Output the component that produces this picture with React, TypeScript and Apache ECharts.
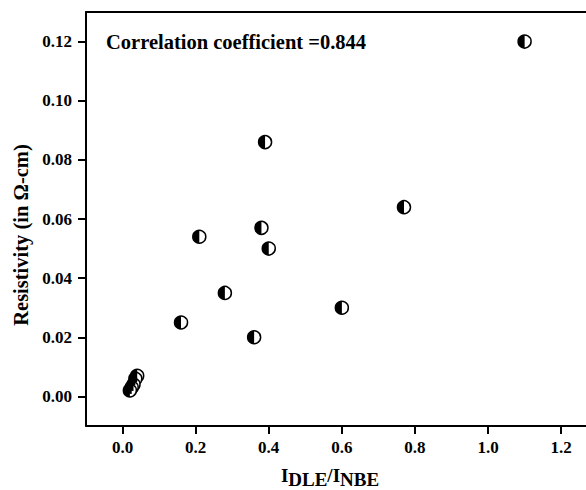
import React, { useEffect, useRef } from "react";
import * as echarts from "echarts";

const xValues = [1.1, 0.39, 0.77, 0.38, 0.21, 0.4, 0.28, 0.6, 0.16, 0.36, 0.04, 0.035, 0.03, 0.025, 0.02];
const yValues = [0.12, 0.086, 0.064, 0.057, 0.054, 0.05, 0.035, 0.03, 0.025, 0.02, 0.007, 0.006, 0.004, 0.003, 0.002];
const xTicks = [0, 0.2, 0.4, 0.6, 0.8, 1.0, 1.2];
const yTicks = [0, 0.02, 0.04, 0.06, 0.08, 0.1, 0.12];
const annotation = "Correlation coefficient =0.844";

const FONT = "Liberation Serif";

export default function App() {
  const ref = useRef<HTMLDivElement>(null);
  useEffect(() => {
    if (!ref.current) return;
    const chart = echarts.init(ref.current, null, { renderer: "svg" });
    const data = xValues.map((x, i) => [x, yValues[i]]);
    const line = { show: true, onZero: false, lineStyle: { color: "#000", width: 2 } };
    chart.setOption({
      animation: false,
      backgroundColor: "#fff",
      textStyle: { fontFamily: FONT },
      title: {
        text: annotation,
        left: 106,
        top: 31,
        padding: 0,
        textStyle: { fontFamily: FONT, fontWeight: "bold", fontSize: 20.5, color: "#000" },
      },
      grid: { left: 86, top: 12, right: 0, bottom: 64, show: false, containLabel: false, outerBoundsMode: "none" },
      xAxis: [
        {
          type: "value",
          min: -0.1,
          max: 1.268,
          axisLine: line,
          splitLine: { show: false },
          axisTick: { show: true, customValues: xTicks, length: 8, lineStyle: { color: "#000", width: 2 } },
          axisLabel: {
            customValues: xTicks,
            margin: 13,
            formatter: (v: number) => v.toFixed(1),
            fontFamily: FONT,
            fontWeight: "bold",
            fontSize: 17,
            color: "#000",
          },
          name: "{i|I}{s|DLE}{i|/I}{s|NBE}",
          nameLocation: "middle",
          nameGap: 36,
          nameTextStyle: {
            fontFamily: FONT,
            fontWeight: "bold",
            color: "#000",
            padding: [0, 12, 0, 0],
            rich: {
              i: { fontFamily: FONT, fontWeight: "bold", fontSize: 19, color: "#000", lineHeight: 18, verticalAlign: "top" },
              s: { fontFamily: FONT, fontWeight: "bold", fontSize: 19, color: "#000", lineHeight: 18, padding: [9, 0, 0, 0] },
            },
          },
        },
        {
          type: "value",
          position: "top",
          min: -0.1,
          max: 1.268,
          axisLine: line,
          axisTick: { show: false },
          axisLabel: { show: false },
          splitLine: { show: false },
        },
      ],
      yAxis: {
        type: "value",
        min: -0.01,
        max: 0.13,
        axisLine: line,
        splitLine: { show: false },
        axisTick: { show: true, customValues: yTicks, length: 8, lineStyle: { color: "#000", width: 2 } },
        axisLabel: {
          customValues: yTicks,
          margin: 14,
          formatter: (v: number) => v.toFixed(2),
          fontFamily: FONT,
          fontWeight: "bold",
          fontSize: 17,
          color: "#000",
        },
        name: "Resistivity (in Ω-cm)",
        nameLocation: "middle",
        nameGap: 53,
        nameTextStyle: {
          fontFamily: FONT,
          fontWeight: "bold",
          fontSize: 20.5,
          color: "#000",
          padding: [0, 32, 0, 0],
        },
      },
      series: [
        {
          type: "scatter",
          data,
          symbol: "circle",
          symbolSize: 13,
          itemStyle: { color: "#fff", borderColor: "#000", borderWidth: 1.5, opacity: 1 },
          z: 2,
        },
        {
          type: "scatter",
          data,
          symbol: "path://M10,0 A10,10 0 0 0 10,20 Z",
          symbolSize: [6.5, 13],
          symbolOffset: [-3.25, 0],
          itemStyle: { color: "#000", opacity: 1 },
          z: 3,
        },
      ],
    });
    return () => chart.dispose();
  }, []);
  return (
    <div
      ref={ref}
      style={{ position: "fixed", left: 0, top: 0, width: 586, height: 490, background: "#fff" }}
    />
  );
}
